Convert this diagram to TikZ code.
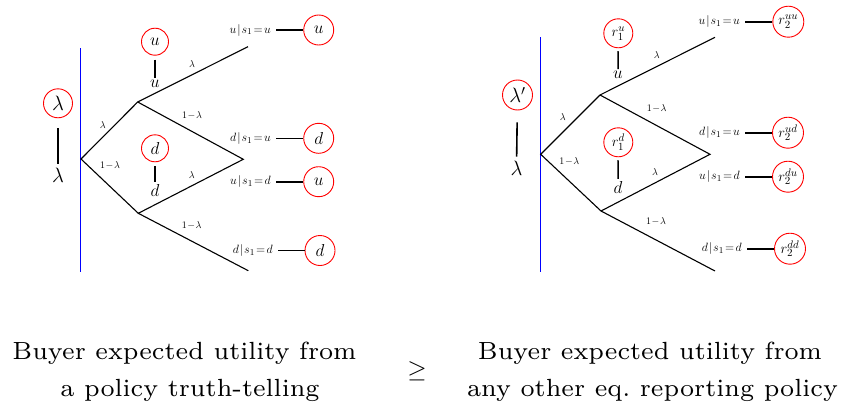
\documentclass[tikz,border=0pt]{standalone}
\usepackage{graphicx}
\newcommand{\capfont}[1]{\scalebox{3.55}{\fontsize{7}{9}\selectfont #1}}
\newcommand{\cond}[3]{$#1\mkern1.5mu|\mkern1.5mu s_1\!=\!#3$}
\begin{document}
\begin{tikzpicture}[x=1pt,y=-1pt,
  edge/.style={black,line width=1.1pt},
  rc/.style={circle,draw=red,line width=0.9pt,inner sep=0pt},
  tick/.style={black,line width=1.6pt},
  plab/.style={inner sep=1pt,font=\fontsize{10}{11}\selectfont},
  vlab/.style={inner sep=0pt,anchor=east,font=\fontsize{12.5}{14}\selectfont},
  big/.style={inner sep=0pt,font=\fontsize{20}{22}\selectfont},
  mid/.style={inner sep=0pt,font=\fontsize{16}{18}\selectfont},
  rfont/.style={font=\fontsize{15}{17}\selectfont},
  capline/.style={inner sep=0pt,anchor=base}]
\useasboundingbox (0,0) rectangle (848,415);
% ---------------- left tree ----------------
\coordinate (Lb1) at (80.7,48);
\coordinate (Lb2) at (80.7,272);
\draw[blue,line width=1pt] (Lb1) -- (Lb2);
\coordinate (LR) at (81,159);
\coordinate (LU) at (137.7,102);
\coordinate (LD) at (138.3,213.3);
\coordinate (LT) at (248,46.7);
\coordinate (LM) at (243.3,159.3);
\coordinate (LB) at (248.3,270.7);
\draw[edge] (LT) -- (LU) -- (LR) -- (LD) -- (LB);
\draw[edge] (LU) -- (LM) -- (LD);
\node[plab] (ll1) at (102.7,125) {$\lambda$};
\node[plab] (ll2) at (110,165) {$1\!-\!\lambda$};
\node[plab] (ll3) at (192,64) {$\lambda$};
\node[plab] (ll4) at (192,115.7) {$1\!-\!\lambda$};
\node[plab] (ll5) at (191.7,175) {$\lambda$};
\node[plab] (ll6) at (191.7,225) {$1\!-\!\lambda$};
\node[rc,minimum size=29pt,big] (Lcl) at (58,103.3) {$\lambda$};
\node[big] (Ll) at (58,175) {$\lambda$};
\draw[tick,shorten <=10pt,shorten >=4pt] (Lcl) -- (Ll);
\node[rc,minimum size=27pt,mid] (Lcu) at (155,41.7) {$u$};
\node[mid] (Lu) at (155,84) {$u$};
\draw[tick,shorten <=4pt,shorten >=2pt] (Lcu) -- (Lu);
\node[rc,minimum size=27pt,mid] (Lcd) at (155,148.3) {$d$};
\node[mid] (Ld) at (155,190) {$d$};
\draw[tick,shorten <=4pt,shorten >=2pt] (Lcd) -- (Ld);
\node[vlab] (Lv1) at (271,30) {\cond{u}{}{u}};
\node[rc,minimum size=30pt,mid] (Lc1) at (318.7,30) {$u$};
\draw[tick] ([xshift=5pt]Lv1.east) -- (Lc1);
\node[vlab] (Lv2) at (271,138.3) {\cond{d}{}{u}};
\node[rc,minimum size=30pt,mid] (Lc2) at (318.7,138.3) {$d$};
\draw[tick] ([xshift=5pt]Lv2.east) -- (Lc2);
\node[vlab] (Lv3) at (271,181.7) {\cond{u}{}{d}};
\node[rc,minimum size=30pt,mid] (Lc3) at (318.7,181.7) {$u$};
\draw[tick] ([xshift=5pt]Lv3.east) -- (Lc3);
\node[vlab] (Lv4) at (273,250.5) {\cond{d}{}{d}};
\node[rc,minimum size=30pt,mid] (Lc4) at (320,250.5) {$d$};
\draw[tick] ([xshift=5pt]Lv4.east) -- (Lc4);
% ---------------- right tree ----------------
\coordinate (Rb1) at (540.7,37);
\coordinate (Rb2) at (540.7,271.7);
\draw[blue,line width=1pt] (Rb1) -- (Rb2);
\coordinate (RR) at (540.7,154.3);
\coordinate (RU) at (600,95);
\coordinate (RD) at (601,211);
\coordinate (RT) at (715,37.3);
\coordinate (RM) at (710,154.3);
\coordinate (RB) at (715,271);
\draw[edge] (RT) -- (RU) -- (RR) -- (RD) -- (RB);
\draw[edge] (RU) -- (RM) -- (RD);
\node[plab] (rl1) at (562.7,116.7) {$\lambda$};
\node[plab] (rl2) at (569.3,161) {$1\!-\!\lambda$};
\node[plab] (rl3) at (656.7,55) {$\lambda$};
\node[plab] (rl4) at (656.7,108.3) {$1\!-\!\lambda$};
\node[plab] (rl5) at (655,171.7) {$\lambda$};
\node[plab] (rl6) at (656,221.7) {$1\!-\!\lambda$};
\node[rc,minimum size=30pt,big] (Rcl) at (517.5,95) {$\lambda'$};
\node[big] (Rl) at (516.5,168) {$\lambda$};
\draw[tick,shorten <=12pt,shorten >=4pt] (Rcl) -- (Rl);
\node[rc,minimum size=29pt,rfont] (Rcu) at (618.3,33.3) {$r_1^u$};
\node[mid] (Ru) at (618,75) {$u$};
\draw[tick,shorten <=3pt,shorten >=2pt] (Rcu) -- (Ru);
\node[rc,minimum size=29pt,rfont] (Rcd) at (618.3,142.3) {$r_1^d$};
\node[mid] (Rd) at (618,187) {$d$};
\draw[tick,shorten <=3pt,shorten >=2pt] (Rcd) -- (Rd);
\node[vlab] (Rv1) at (740,21.7) {\cond{u}{}{u}};
\node[rc,minimum size=31pt,rfont] (Rc1) at (788.3,21.7) {$r_2^{uu}$};
\draw[tick] ([xshift=5pt]Rv1.east) -- (Rc1);
\node[vlab] (Rv2) at (740,132.7) {\cond{d}{}{u}};
\node[rc,minimum size=31pt,rfont] (Rc2) at (788,132.7) {$r_2^{ud}$};
\draw[tick] ([xshift=5pt]Rv2.east) -- (Rc2);
\node[vlab] (Rv3) at (740,176.7) {\cond{u}{}{d}};
\node[rc,minimum size=31pt,rfont] (Rc3) at (788,176.7) {$r_2^{du}$};
\draw[tick] ([xshift=5pt]Rv3.east) -- (Rc3);
\node[vlab] (Rv4) at (742,248.7) {\cond{d}{}{d}};
\node[rc,minimum size=31pt,rfont] (Rc4) at (790,248.7) {$r_2^{dd}$};
\draw[tick] ([xshift=5pt]Rv4.east) -- (Rc4);
% ---------------- captions ----------------
\node[capline] (capL1) at (184.5,359) {\capfont{Buyer expected utility from}};
\node[capline] (capL2) at (190,396) {\capfont{a policy truth-telling}};
\node[capline] (capR1) at (650,359) {\capfont{Buyer expected utility from}};
\node[capline] (capR2) at (652.5,396) {\capfont{any other eq.\ reporting policy}};
\node[inner sep=0pt,font=\fontsize{25}{30}\selectfont] (geq) at (417,371) {$\geq$};
\end{tikzpicture}
\end{document}
